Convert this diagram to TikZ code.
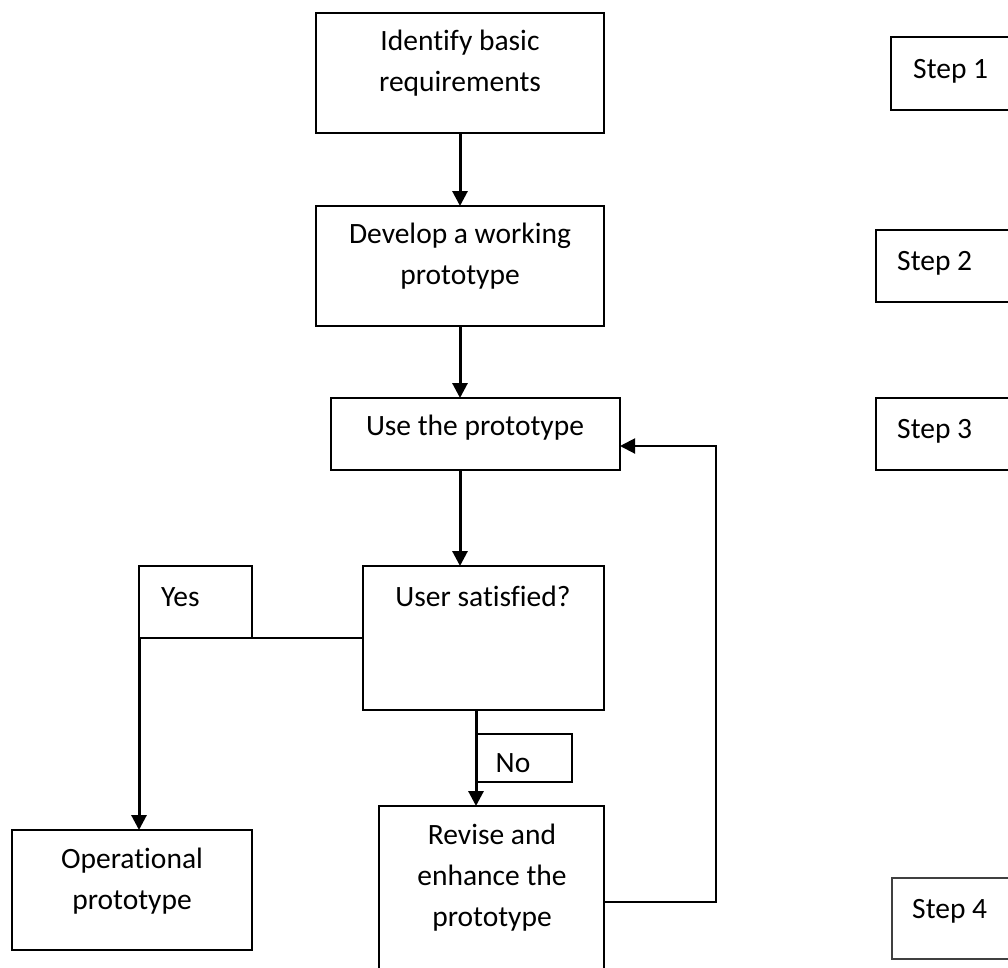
\documentclass[tikz,border=0pt]{standalone}
\usepackage{fontspec}
\setmainfont[Ligatures=NoCommon]{Carlito}
\usetikzlibrary{arrows.meta,calc}
\begin{document}
\begin{tikzpicture}[x=1pt,y=-1pt,
  box/.style={draw,line width=2pt,inner sep=0pt,outer sep=0pt,anchor=north west},
  stepbox/.style={draw,line width=1.8pt,inner sep=0pt,outer sep=0pt,anchor=north west,minimum width=220pt},
  txt/.style={inner sep=0pt,align=center,font=\fontsize{29.5}{41}\selectfont},
  flow/.style={line width=3pt,-{Triangle[width=15pt,length=15pt]}},
  link/.style={line width=2pt},
  back/.style={line width=2pt,-{Triangle[width=15pt,length=15pt]}}]
\useasboundingbox (0,0) rectangle (1008,967);
% boxes
\node[box,minimum width=288pt,minimum height=120pt] (b1) at (316,13) {};
\node[box,minimum width=288pt,minimum height=120pt] (b2) at (316,206) {};
\node[box,minimum width=289pt,minimum height=72pt] (b3) at (331,398) {};
\node[box,minimum width=241pt,minimum height=144pt] (b4) at (363,566) {};
\node[box,minimum width=113pt,minimum height=72pt] (yes) at (139,566) {};
\node[box,minimum width=96pt,minimum height=48pt] (no) at (476,734) {};
\node[box,minimum width=225pt,minimum height=204pt] (rev) at (379,806) {};
\node[box,minimum width=240pt,minimum height=120pt] (op) at (12,830) {};
\node[stepbox,minimum height=73pt] (st1) at (891,37) {};
\node[stepbox,minimum height=72pt] (st2) at (876,230) {};
\node[stepbox,minimum height=72pt] (st3) at (876,398) {};
\node[stepbox,minimum height=81pt,draw=black!75,line width=1.3pt] (st4) at (892,878) {};
% helper points on the boxes
\coordinate (b3e) at (b3.east |- 0,446);
\coordinate (b4w) at (b4.west |- yes.south);
\coordinate (b4s) at (b4.south -| no.west);
\coordinate (reve) at (rev.east |- 0,902);
\coordinate (corner1) at (yes.south west);
\coordinate (fb1) at (716,902);
\coordinate (fb2) at (716,446);
% texts
\node[txt] (t1) at (460,63) {Identify basic\\requirements};
\node[txt] (t2) at (460,256) {Develop a working\\prototype};
\node[txt] (t3) at (475,428) {Use the prototype};
\node[txt] (t4) at (483,596) {User satisfied?};
\node[txt,anchor=west] (ty) at (161,597) {Yes};
\node[txt] (tn) at (513,763) {No};
\node[txt] (tr) at (492,878) {Revise and\\enhance the\\prototype};
\node[txt] (to) at (132,881) {Operational\\prototype};
\node[txt,anchor=west] (s1) at (913,71) {Step 1};
\node[txt,anchor=west] (s2) at (897,263) {Step 2};
\node[txt,anchor=west] (s3) at (897,431) {Step 3};
\node[txt,anchor=west] (s4) at (912,911) {Step 4};
% connectors
\draw[flow] (b1.south) -- (b2.north);
\draw[flow] (b2.south) -- (b2.south |- b3.north);
\draw[flow] (b2.south |- b3.south) -- (b2.south |- b4.north);
\draw[flow] (b4s) -- (b4s |- rev.north);
\draw[link] (b4w) -- (corner1);
\draw[flow] (corner1) -- (corner1 |- op.north);
\draw[back] (reve) -- (fb1) -- (fb2) -- (b3e);
\end{tikzpicture}
\end{document}
